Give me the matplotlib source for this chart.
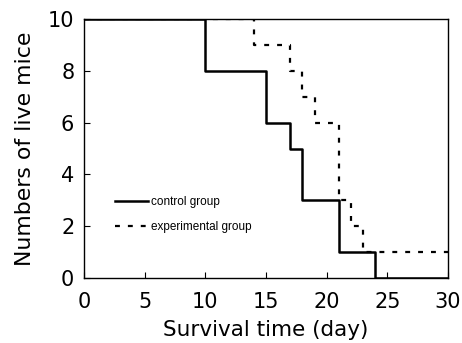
import matplotlib
matplotlib.use("Agg")
import matplotlib.pyplot as plt

plt.rcParams['font.family'] = ['DejaVu Sans']

# Kaplan-Meier style step data (number of live mice over time)
control_days = [0, 10, 15, 17, 18, 21, 24, 30]
control_alive = [10, 8, 6, 5, 3, 1, 0, 0]
exp_days = [0, 14, 17, 18, 19, 21, 22, 23, 30]
exp_alive = [10, 9, 8, 7, 6, 3, 2, 1, 1]

x_ticks = [0, 5, 10, 15, 20, 25, 30]
y_ticks = [0, 2, 4, 6, 8, 10]

fig = plt.figure(figsize=(4.62, 3.43), dpi=100)
ax = fig.add_axes([0.1818, 0.1895, 0.7879, 0.7551])

ax.step(control_days, control_alive, where='post', color='black',
        linewidth=1.8, label='control group')
ax.step(exp_days, exp_alive, where='post', color='black',
        linewidth=1.6, linestyle=(0, (2.2, 3.6)), label='experimental group')

ax.set_xlim(0, 30)
ax.set_ylim(0, 10)
ax.set_xticks(x_ticks)
ax.set_yticks(y_ticks)
ax.tick_params(direction='in', length=4, width=0.8, labelsize=15)
ax.tick_params(axis='x', pad=10)
ax.tick_params(axis='y', pad=7)
for s in ax.spines.values():
    s.set_linewidth(1.0)

ax.set_xlabel('Survival time (day)', fontsize=15.5, labelpad=6)
ax.set_ylabel('Numbers of live mice', fontsize=15.8, labelpad=9)

leg = ax.legend(loc='center left', bbox_to_anchor=(0.055, 0.245), frameon=False,
                prop={'family': 'Liberation Sans', 'size': 8.5},
                handlelength=2.8, handletextpad=0.3, labelspacing=1.1)

fig.savefig('out.png', dpi=100)
